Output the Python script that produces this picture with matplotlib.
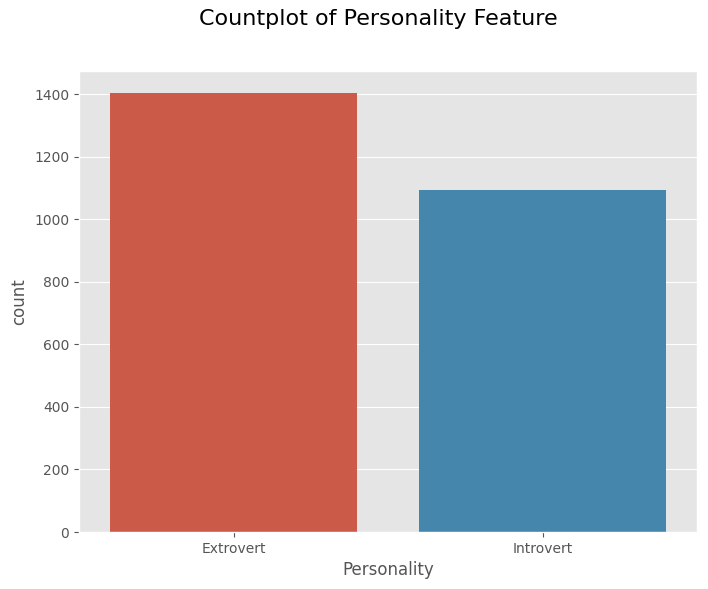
import matplotlib
matplotlib.use("Agg")
import matplotlib.pyplot as plt
import seaborn as sns

categories = ["Extrovert", "Introvert"]
counts = [1404, 1095]

plt.style.use("ggplot")
base_colors = ["#E24A33", "#348ABD"]
colors = [sns.desaturate(c, 0.75) for c in base_colors]

fig = plt.figure(figsize=(7.08, 5.89), dpi=100)
ax = fig.add_axes([79/708, 1 - 532/589, (697-79)/708, (532-71)/589])
ax.bar(range(len(categories)), counts, width=0.8, color=colors)
ax.set_xticks(range(len(categories)))
ax.set_xticklabels(categories)
ax.xaxis.grid(False)
ax.set_xlim(-0.5, 1.5)
ax.set_ylim(0, max(counts) * 1.05)
ax.set_xlabel("Personality")
ax.set_ylabel("count")
fig.suptitle("Countplot of Personality Feature", fontsize=16, x=378/708, y=1 - 9/589)
fig.savefig("out.png", dpi=100)
